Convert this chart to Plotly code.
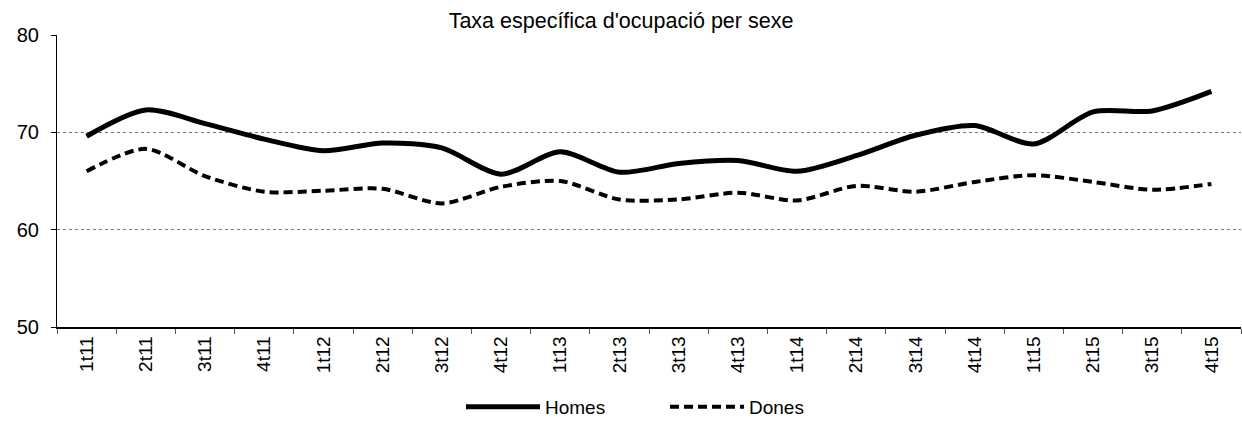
import plotly.graph_objects as go

# quarters
trimestres = ['1t11', '2t11', '3t11', '4t11', '1t12', '2t12', '3t12', '4t12',
              '1t13', '2t13', '3t13', '4t13', '1t14', '2t14', '3t14', '4t14',
              '1t15', '2t15', '3t15', '4t15']

# occupation rate by sex (%)
homes = [69.6, 72.3, 70.9, 69.3, 68.1, 68.9, 68.4, 65.7, 68.0, 65.9,
         66.8, 67.1, 66.0, 67.6, 69.7, 70.7, 68.8, 72.1, 72.2, 74.2]
dones = [66.0, 68.3, 65.5, 63.9, 64.0, 64.2, 62.7, 64.4, 65.0, 63.1,
         63.1, 63.8, 63.0, 64.5, 63.9, 64.9, 65.6, 64.9, 64.1, 64.7]

FONT = 'Liberation Sans, Arial, sans-serif'
W, H = 1242, 423

fig = go.Figure()

fig.add_trace(go.Scatter(x=trimestres, y=homes, name='Homes', mode='lines',
                         line=dict(color='black', width=5, shape='spline', smoothing=0.8)))
fig.add_trace(go.Scatter(x=trimestres, y=dones, name='Dones', mode='lines',
                         line=dict(color='black', width=4, shape='spline', smoothing=0.8,
                                   dash='9px,5px')))

fig.update_layout(
    width=W, height=H,
    margin=dict(l=57, r=1, t=35, b=96),
    paper_bgcolor='white', plot_bgcolor='white',
    font=dict(family=FONT, size=19, color='black'),
    title=dict(text="Taxa específica d'ocupació per sexe", x=0.5, xanchor='center',
               y=1 - 20 / H, yanchor='middle', yref='container',
               font=dict(family=FONT, size=21.5, color='black')),
    showlegend=True,
    legend=dict(orientation='h', x=665 / W, xanchor='center', xref='container',
                y=1 - 407 / H, yanchor='middle', yref='container',
                font=dict(size=19), itemwidth=74, entrywidth=115,
                bgcolor='rgba(0,0,0,0)'),
)

fig.update_xaxes(
    type='category', range=[-0.5, 19.5], automargin=False,
    showline=True, linecolor='black', linewidth=1.5,
    ticks='outside', tickson='boundaries', ticklen=5, tickcolor='#555',
    tickangle=-90, showgrid=False, zeroline=False,
    tickfont=dict(size=19),
)
fig.update_yaxes(
    range=[50, 80], tickvals=[50, 60, 70, 80], automargin=False,
    showline=True, linecolor='black', linewidth=1,
    ticks='outside', ticklen=5, tickcolor='black', ticklabelstandoff=8,
    showgrid=True, gridcolor='#777', gridwidth=1, griddash='dot',
    zeroline=False, tickfont=dict(size=20),
)

# the page's default body margin would push the chart 8px off the corner
fig.write_html('out.html', config={'displayModeBar': False},
               post_script="document.body.style.margin='0';")
